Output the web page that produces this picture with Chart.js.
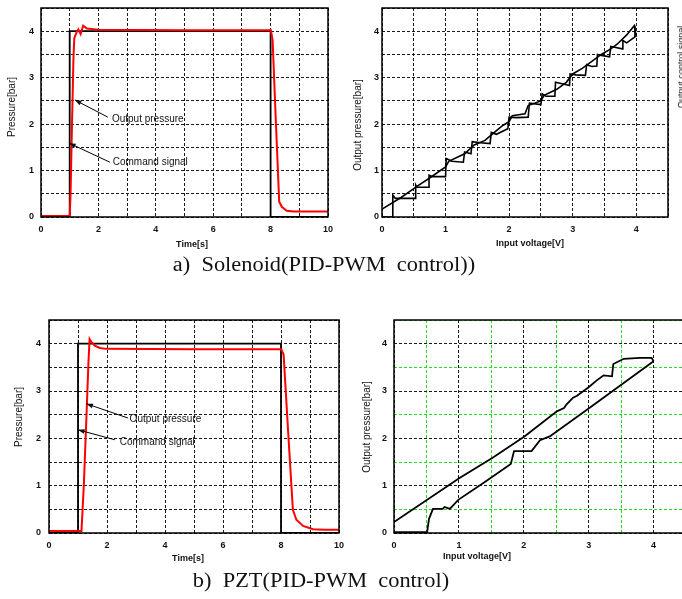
<!DOCTYPE html>
<html lang="en">
<head>
<meta charset="UTF-8">
<title>PID-PWM control</title>
<script src="https://cdn.jsdelivr.net/npm/chart.js"></script>
<style>
    body {
        margin: 0;
        width: 682px;
        height: 599px;
        overflow: hidden;
        background: #fff;
        position: relative;
        font-family: "Liberation Sans", Arial, sans-serif;
        color: #111;
    }
    canvas { position: absolute; }
    .lbl {
        position: absolute;
        font-size: 10px;
        white-space: nowrap;
        transform: translate(-50%, -50%);
    }
    .vt { transform: translate(-50%, -50%) rotate(-90deg); }
    .bold { font-weight: bold; font-size: 9px; }
    .cap {
        position: absolute;
        font-family: "Liberation Serif", "Times New Roman", serif;
        font-size: 20px;
        white-space: pre;
        transform: translate(-50%, -50%) scaleX(1.12);
    }
</style>
</head>
<body>
    <canvas id="chartA" width="340" height="240" style="left:0;top:0"></canvas>
    <canvas id="chartB" width="342" height="240" style="left:340px;top:0"></canvas>
    <canvas id="chartC" width="350" height="255" style="left:0;top:305px"></canvas>
    <canvas id="chartD" width="340" height="255" style="left:350px;top:305px"></canvas>

    <div class="lbl vt" style="left:11px;top:107px">Pressure[bar]</div>
    <div class="lbl bold" style="left:192px;top:244px">Time[s]</div>
    <div class="lbl vt" style="left:357px;top:125px">Output pressure[bar]</div>
    <div class="lbl bold" style="left:530px;top:243px">Input voltage[V]</div>
    <div class="lbl vt" style="left:681px;top:67px;font-size:9px">Output control signal</div>
    <div class="cap" style="left:324px;top:264px">a)  Solenoid(PID-PWM  control))</div>

    <div class="lbl vt" style="left:18px;top:417px">Pressure[bar]</div>
    <div class="lbl bold" style="left:188px;top:558px">Time[s]</div>
    <div class="lbl vt" style="left:366px;top:427px">Output pressure[bar]</div>
    <div class="lbl bold" style="left:477px;top:556px">Input voltage[V]</div>
    <div class="cap" style="left:321px;top:580px">b)  PZT(PID-PWM  control)</div>

<script>
// a) solenoid, step response
const cmdT_a = [0, 1, 1, 8, 8, 10];
const cmdP_a = [0, 0, 4, 4, 0, 0];
const outT_a = [0, 1.0, 1.03, 1.08, 1.13, 1.16, 1.22, 1.30, 1.38, 1.47, 1.60, 2.0, 5.0, 8.01, 8.07, 8.18, 8.30, 8.39, 8.56, 8.8, 10];
const outP_a = [0.02, 0.02, 0.5, 2.0, 3.4, 3.85, 3.95, 4.04, 3.94, 4.12, 4.06, 4.03, 4.02, 4.02, 3.81, 2.1, 0.33, 0.22, 0.135, 0.12, 0.12];

// a) solenoid, input voltage vs output pressure
const stairV_b = [0, 0.17, 0.17, 0.21, 0.53, 0.53, 0.55, 0.74, 0.74, 0.79, 1.0, 1.01, 1.1, 1.28, 1.30, 1.40, 1.42, 1.55, 1.70, 1.72, 1.80, 1.98, 2.0, 2.12, 2.30, 2.32, 2.50, 2.52, 2.58, 2.72, 2.73, 2.80, 2.95, 2.96, 3.05, 3.20, 3.22, 3.30, 3.38, 3.39, 3.45, 3.58, 3.60, 3.68, 3.78, 3.79, 3.85, 3.98, 3.98];
const stairP_b = [0, 0, 0.47, 0.40, 0.40, 0.69, 0.64, 0.64, 0.90, 0.87, 0.87, 1.26, 1.20, 1.18, 1.40, 1.36, 1.62, 1.60, 1.58, 1.82, 1.78, 1.90, 2.15, 2.14, 2.15, 2.45, 2.42, 2.65, 2.60, 2.60, 2.90, 2.88, 2.83, 3.08, 3.06, 3.05, 3.28, 3.24, 3.25, 3.50, 3.48, 3.45, 3.67, 3.65, 3.62, 3.80, 3.75, 3.88, 4.12];
const diagV_b = [0, 0.3, 0.55, 0.75, 1.0, 1.05, 1.3, 1.45, 1.62, 1.75, 1.9, 2.0, 2.05, 2.25, 2.3, 2.5, 2.55, 2.75, 2.9, 3.0, 3.15, 3.35, 3.45, 3.6, 3.7, 3.85, 3.97, 4.0];
const diagP_b = [0.17, 0.42, 0.66, 0.84, 1.08, 1.2, 1.36, 1.55, 1.65, 1.8, 1.97, 2.05, 2.18, 2.22, 2.4, 2.5, 2.62, 2.75, 2.9, 3.08, 3.2, 3.4, 3.5, 3.62, 3.72, 3.92, 4.12, 3.88];

// b) PZT, step response
const cmdT_c = [0, 1, 1, 8, 8, 10];
const cmdP_c = [0, 0, 4, 4, 0, 0];
const outT_c = [0, 1.12, 1.2, 1.3, 1.36, 1.40, 1.48, 1.58, 1.75, 1.98, 5, 8.01, 8.09, 8.25, 8.41, 8.53, 8.76, 9.10, 9.5, 10];
const outP_c = [0.04, 0.04, 1.0, 2.6, 3.6, 4.10, 4.02, 3.96, 3.91, 3.89, 3.88, 3.88, 3.77, 2.1, 0.49, 0.28, 0.15, 0.08, 0.07, 0.07];

// b) PZT, hysteresis loop
const lowV_d = [0, 0.51, 0.54, 0.60, 0.75, 0.78, 0.86, 0.99, 1.4, 1.80, 1.85, 2.12, 2.25, 2.40, 3.0, 4.0];
const lowP_d = [0.02, 0.02, 0.3, 0.51, 0.51, 0.55, 0.51, 0.70, 1.08, 1.46, 1.73, 1.73, 1.96, 2.04, 2.63, 3.63];
const upV_d = [0, 1.01, 1.52, 2.01, 2.51, 2.62, 2.66, 2.76, 2.82, 3.0, 3.12, 3.23, 3.36, 3.38, 3.54, 3.79, 3.97, 4.0];
const upP_d = [0.23, 1.16, 1.59, 2.04, 2.57, 2.64, 2.72, 2.86, 2.90, 3.08, 3.22, 3.33, 3.31, 3.57, 3.68, 3.70, 3.70, 3.63];

const annotA = [
    { text: "Output pressure", tip: [1.18, 2.52], tail: [2.33, 2.15], at: [2.47, 2.11] },
    { text: "Command signal", tip: [0.98, 1.59], tail: [2.4, 1.18], at: [2.5, 1.17] }
];
const annotC = [
    { text: "Output pressure", tip: [1.29, 2.73], tail: [2.72, 2.43], at: [2.78, 2.40] },
    { text: "Command signal", tip: [1.0, 2.18], tail: [2.27, 1.97], at: [2.44, 1.91] }
];

const pts = (xs, ys) => xs.map((x, i) => ({ x: x, y: ys[i] }));
const tickFont = { family: "'Liberation Sans', Arial, sans-serif", size: 9, weight: "bold" };

// frame round the plot area + arrow notes
const framePlugin = {
    id: "frame",
    afterDraw(chart) {
        const { ctx, chartArea: a, scales } = chart;
        ctx.save();
        ctx.strokeStyle = "#000";
        ctx.lineWidth = 1.5;
        ctx.strokeRect(a.left, a.top, a.right - a.left, a.bottom - a.top);
        const notes = chart.options.plugins.frame.notes || [];
        ctx.lineWidth = 1;
        ctx.fillStyle = "#111";
        ctx.font = "10px 'Liberation Sans', Arial, sans-serif";
        ctx.textBaseline = "middle";
        notes.forEach(n => {
            const tx = scales.x.getPixelForValue(n.tip[0]), ty = scales.y.getPixelForValue(n.tip[1]);
            const sx = scales.x.getPixelForValue(n.tail[0]), sy = scales.y.getPixelForValue(n.tail[1]);
            ctx.beginPath();
            ctx.moveTo(sx, sy);
            ctx.lineTo(tx, ty);
            ctx.stroke();
            const ang = Math.atan2(ty - sy, tx - sx);
            ctx.beginPath();
            ctx.moveTo(tx, ty);
            ctx.lineTo(tx - 7 * Math.cos(ang - 0.35), ty - 7 * Math.sin(ang - 0.35));
            ctx.lineTo(tx - 7 * Math.cos(ang + 0.35), ty - 7 * Math.sin(ang + 0.35));
            ctx.closePath();
            ctx.fill();
            ctx.fillText(n.text, scales.x.getPixelForValue(n.at[0]), scales.y.getPixelForValue(n.at[1]));
        });
        ctx.restore();
    }
};

function makeChart(id, datasets, o) {
    return new Chart(document.getElementById(id).getContext("2d"), {
        type: "scatter",
        data: { datasets: datasets },
        plugins: [framePlugin],
        options: {
            responsive: false,
            animation: false,
            layout: { padding: o.padding },
            elements: { point: { radius: 0 }, line: { tension: 0 } },
            plugins: {
                legend: { display: false },
                tooltip: { enabled: false },
                frame: { notes: o.notes }
            },
            scales: {
                x: {
                    type: "linear",
                    min: 0,
                    max: o.xMax,
                    afterFit: s => { s.height = o.xH; s.paddingLeft = 0; s.paddingRight = 0; },
                    ticks: {
                        stepSize: o.xStep,
                        autoSkip: false,
                        maxRotation: 0,
                        padding: o.xPad,
                        color: "#111",
                        font: tickFont,
                        callback: v => (Math.abs(v / o.xLabel - Math.round(v / o.xLabel)) < 1e-6 && v <= o.xLastLabel) ? v : ""
                    },
                    grid: { color: o.gridX, lineWidth: 1, drawTicks: false },
                    border: { display: false, dash: [3, 2] }
                },
                y: {
                    type: "linear",
                    min: 0,
                    max: 4.5,
                    afterFit: s => { s.width = o.yW; s.paddingTop = 0; s.paddingBottom = 0; },
                    ticks: {
                        stepSize: 0.5,
                        autoSkip: false,
                        padding: o.yPad,
                        color: "#111",
                        font: tickFont,
                        callback: v => Number.isInteger(v) ? v : ""
                    },
                    grid: { color: o.gridY, lineWidth: 1, drawTicks: false },
                    border: { display: false, dash: [3, 2] }
                }
            }
        }
    });
}

const black = "#1a1a1a";
const greenGrid = ctx => Number.isInteger(ctx.tick.value) ? black : "#22dd22";

makeChart("chartA", [
    { data: pts(outT_a, outP_a), showLine: true, borderColor: "#ff0000", borderWidth: 2 },
    { data: pts(cmdT_a, cmdP_a), showLine: true, borderColor: "#000", borderWidth: 1.8 }
], { padding: { top: 8, right: 12, left: 0, bottom: 0 }, xMax: 10, xStep: 1, xLabel: 2, xLastLabel: 10,
     xH: 23, yW: 41, xPad: 7, yPad: 7, gridX: black, gridY: black, notes: annotA });

makeChart("chartB", [
    { data: pts(stairV_b, stairP_b), showLine: true, borderColor: "#000", borderWidth: 1.6 },
    { data: pts(diagV_b, diagP_b), showLine: true, borderColor: "#000", borderWidth: 1.6 }
], { padding: { top: 8, right: 14, left: 0, bottom: 0 }, xMax: 4.5, xStep: 0.5, xLabel: 1, xLastLabel: 4,
     xH: 23, yW: 42, xPad: 7, yPad: 3, gridX: black, gridY: black, notes: [] });

makeChart("chartC", [
    { data: pts(outT_c, outP_c), showLine: true, borderColor: "#ff0000", borderWidth: 2 },
    { data: pts(cmdT_c, cmdP_c), showLine: true, borderColor: "#000", borderWidth: 1.8 }
], { padding: { top: 15, right: 11, left: 0, bottom: 0 }, xMax: 10, xStep: 1, xLabel: 2, xLastLabel: 10,
     xH: 27, yW: 49, xPad: 7, yPad: 8, gridX: black, gridY: black, notes: annotC });

makeChart("chartD", [
    { data: pts(lowV_d, lowP_d), showLine: true, borderColor: "#000", borderWidth: 1.8 },
    { data: pts(upV_d, upP_d), showLine: true, borderColor: "#000", borderWidth: 1.8 }
], { padding: { top: 15, right: 4, left: 0, bottom: 0 }, xMax: 4.5, xStep: 0.5, xLabel: 1, xLastLabel: 4,
     xH: 27, yW: 44, xPad: 7, yPad: 7, gridX: greenGrid, gridY: greenGrid, notes: [] });
</script>
</body>
</html>
